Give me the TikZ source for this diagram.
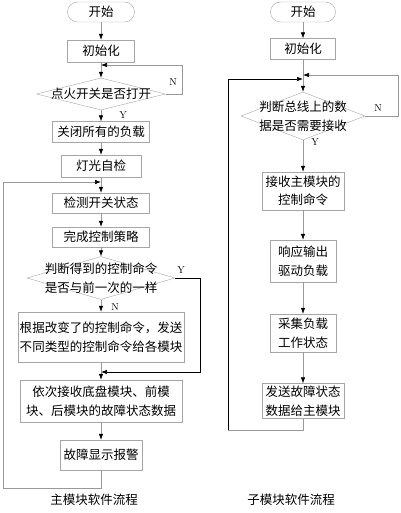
\documentclass[tikz,border=0pt]{standalone}
\usepackage{fontspec}
\newfontfamily\cjk{Noto Sans CJK SC}
\usetikzlibrary{arrows.meta,shapes.geometric}

\tikzset{
  term/.style={draw=gray!70,rounded corners=10pt,inner sep=0pt},
  proc/.style={draw=gray!70,inner sep=0pt,align=center},
  dec/.style={draw=gray!70,diamond,inner sep=0pt},
  flow/.style={draw=gray!80,line width=0.6pt},
  arr/.style={flow,-{Latex[black,length=6pt,width=4.5pt]}},
  yn/.style={font=\fontsize{10}{10}\selectfont,inner sep=0pt}
}

\begin{document}
\begin{tikzpicture}[x=1pt,y=-1pt,every node/.append style={font=\cjk\fontsize{12.5}{18.5}\selectfont}]
\useasboundingbox (0,0) rectangle (400,513);

% main module, left column
\node[term,minimum width=67,minimum height=20] (s1) at (101,12) {开始};
\node[proc,minimum width=67,minimum height=22] (i1) at (101,51) {初始化};
\node[dec,minimum width=129,minimum height=32] (d1) at (101,94) {};
\node[inner sep=0pt] (d1t) at (d1.center) {点火开关是否打开};
\node[proc,minimum width=97,minimum height=21] (b1) at (101,132) {关闭所有的负载};
\node[proc,minimum width=80,minimum height=22] (b2) at (101,166) {灯光自检};
\node[proc,minimum width=97,minimum height=20] (b3) at (101,203) {检测开关状态};
\node[proc,minimum width=97,minimum height=20] (b4) at (101,237) {完成控制策略};
\node[dec,minimum width=148,minimum height=43] (d2) at (101,278) {};
\node[inner sep=0pt,align=center] (d2t) at (d2.center) {判断得到的控制命令\\是否与前一次的一样};
\node[proc,minimum width=166,minimum height=50] (b5) at (101,337) {根据改变了的控制命令，发送\\不同类型的控制命令给各模块};
\node[proc,minimum width=162,minimum height=42] (b6) at (101,401) {依次接收底盘模块、前模\\块、后模块的故障状态数据};
\node[proc,minimum width=82,minimum height=30] (b7) at (101,455) {故障显示报警};
\node (cap1) at (94,500) {主模块软件流程};

% Y / N marks
\node[yn] (n1) at (173,82) {N};
\node[yn] (y1) at (123,115) {Y};
\node[yn] (y2) at (181,270) {Y};
\node[yn] (n2) at (115,307) {N};

\coordinate (j1) at (101,65);
\coordinate (nl) at (182,65);
\coordinate (j2) at (101,182);
\coordinate (lb) at (3,488);
\coordinate (j3) at (101,372);
\coordinate (yr) at (200,372);

\draw[arr] (s1) -- (i1);
\draw[arr] (i1) -- (d1);
\draw[arr] (d1.east) -| (nl) -- (j1);
\draw[arr] (d1) -- (b1);
\draw[arr] (b1) -- (b2);
\draw[arr] (b2) -- (b3);
\draw[arr] (b3) -- (b4);
\draw[arr] (b4) -- (d2);
\draw[arr] (d2) -- (b5);
\draw[arr] (b5) -- (b6);
\draw[arr,draw=black] (d2.east) -| (yr) -- (j3);
\draw[arr] (b6) -- (b7);
\draw[arr] (b7.south) |- (lb) |- (j2);

% sub module, right column
\node[term,minimum width=65,minimum height=20] (s2) at (303,12) {开始};
\node[proc,minimum width=65,minimum height=21] (i2) at (303,49) {初始化};
\node[dec,minimum width=124,minimum height=48] (d3) at (303,116) {};
\node[inner sep=0pt,align=center] (d3t) at (d3.center) {判断总线上的数\\据是否需要接收};
\node[proc,minimum width=82,minimum height=38] (c1) at (303,191) {接收主模块的\\控制命令};
\node[proc,minimum width=66,minimum height=42] (c2) at (303,261) {响应输出\\驱动负载};
\node[proc,minimum width=66,minimum height=38] (c3) at (303,333) {采集负载\\工作状态};
\node[proc,minimum width=82,minimum height=35] (c4) at (303,401) {发送故障状态\\数据给主模块};
\node (cap2) at (291,500) {子模块软件流程};

\node[yn] (n3) at (378,108) {N};
\node[yn] (y3) at (315,142) {Y};

\coordinate (jn) at (303,75);
\coordinate (nr) at (398,75);
\coordinate (jm) at (303,79);
\coordinate (rb) at (228,430);

\draw[arr] (s2) -- (i2);
\draw[arr] (i2) -- (d3);
\draw[arr] (d3.east) -| (nr) -- (jn);
\draw[arr] (d3) -- (c1);
\draw[arr] (c1) -- (c2);
\draw[arr] (c2) -- (c3);
\draw[arr] (c3) -- (c4);
\draw[flow] (c4.south) |- (rb);
\draw[arr,draw=black] (rb) |- (jm);
\end{tikzpicture}
\end{document}
